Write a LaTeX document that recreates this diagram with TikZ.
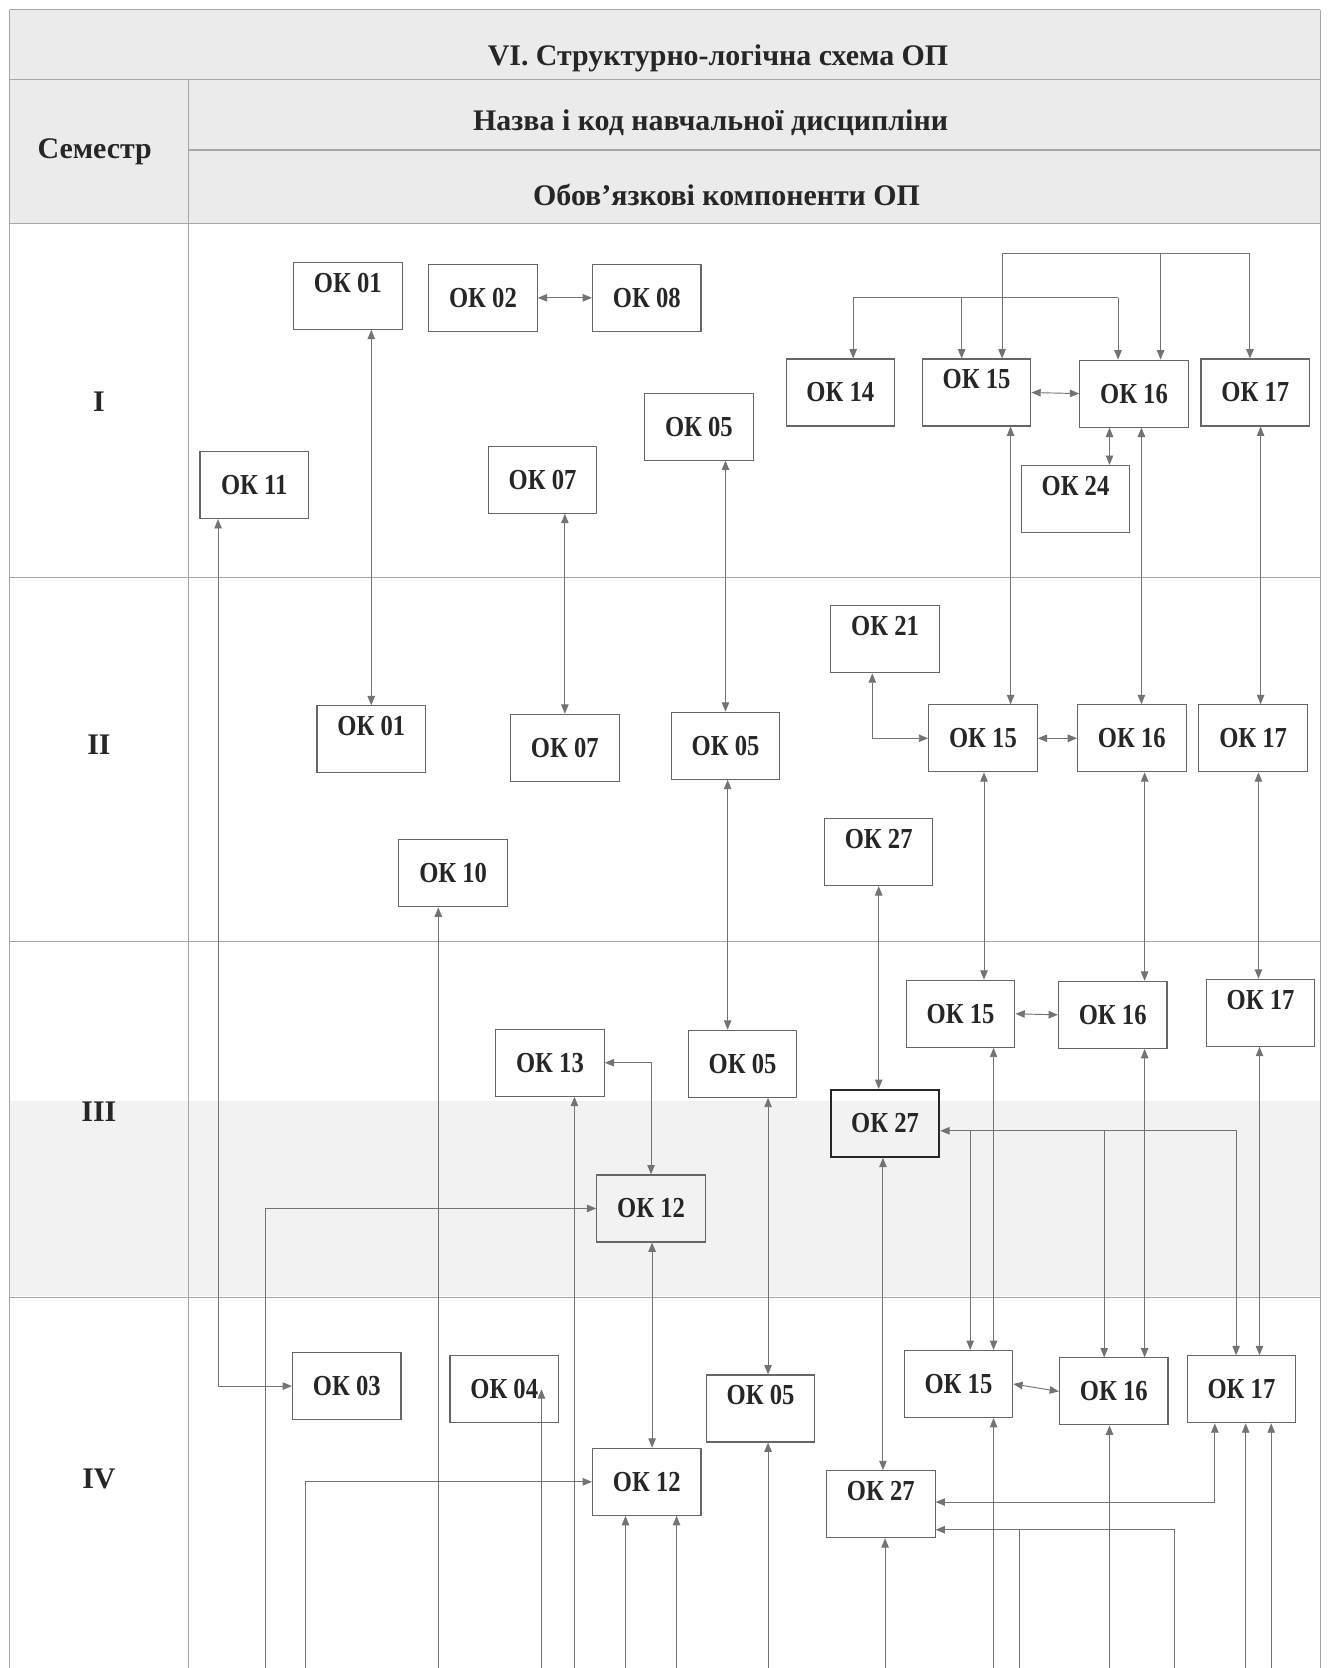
\documentclass[tikz,border=0pt]{standalone}
\usepackage{fontspec}
\setmainfont{Liberation Serif}
\newfontfamily\okfont[FakeStretch=0.85]{Liberation Serif}
\usetikzlibrary{arrows.meta,calc}

\tikzset{
  okbox/.style={draw=black!60, line width=0.6pt, minimum width=2.04cm, minimum height=1.26cm,
    inner sep=0pt, text=black!85, font={\okfont\fontsize{15.5}{16}\selectfont\bfseries}},
  oktop/.style={okbox, text height=0.36cm, text depth=0.5cm},
  head/.style={inner sep=0pt, text=black!85, font={\fontsize{16}{18}\selectfont\bfseries}},
  link/.style={draw=black!55, line width=0.5pt},
  tabline/.style={draw=black!35, line width=0.6pt}
}

\begin{document}
\begin{tikzpicture}[x=0.02cm, y=-0.02cm, >={Triangle[length=5pt,width=4pt]}]
  \useasboundingbox (0,0) rectangle (1249,1568);
  \fill[black!8] (9,9) rectangle (1241,210);
  \fill[black!5] (9,1035) rectangle (1241,1218);
  \draw[tabline] (9,9) -- (1241,9);
  \draw[tabline] (9,75) -- (1241,75);
  \draw[tabline] (177,141) -- (1241,141);
  \draw[tabline] (9,210) -- (1241,210);
  \draw[tabline] (9,543) -- (1241,543);
  \draw[tabline] (9,885) -- (1241,885);
  \draw[tabline] (9,1220) -- (1241,1220);
  \draw[tabline] (9,9) -- (9,1568);
  \draw[tabline] (177,75) -- (177,1568);
  \draw[tabline] (1241,9) -- (1241,1568);

  \node[head] (title) at (675,55) {VI. Структурно-логічна схема ОП};
  \node[head] (name) at (668,115) {Назва і код навчальної дисципліни};
  \node[head] (comp) at (683,183) {Обов’язкові компоненти ОП};
  \node[head] (sem) at (89,143) {Семестр};
  \node[head] (s1) at (93,378) {I};
  \node[head] (s2) at (93,700) {II};
  \node[head] (s3) at (93,1045) {III};
  \node[head] (s4) at (93,1390) {IV};

  \node[oktop] (ok01a) at (327,278) {ОК 01};
  \node[okbox] (ok02) at (454,280) {ОК 02};
  \node[okbox] (ok08) at (608,280) {ОК 08};
  \node[okbox] (ok14) at (790,369) {ОК 14};
  \node[oktop] (ok15a) at (918,369) {ОК 15};
  \node[okbox] (ok16a) at (1066,370) {ОК 16};
  \node[okbox] (ok17a) at (1180,369) {ОК 17};
  \node[okbox] (ok05a) at (657,401) {ОК 05};
  \node[okbox] (ok07a) at (510,451) {ОК 07};
  \node[okbox] (ok11) at (239,456) {ОК 11};
  \node[oktop] (ok24) at (1011,469) {ОК 24};

  \node[oktop] (ok01b) at (349,695) {ОК 01};
  \node[okbox] (ok07b) at (531,703) {ОК 07};
  \node[okbox] (ok05b) at (682,701) {ОК 05};
  \node[oktop] (ok21) at (832,601) {ОК 21};
  \node[okbox] (ok15b) at (924,694) {ОК 15};
  \node[okbox] (ok16b) at (1064,694) {ОК 16};
  \node[okbox] (ok17b) at (1178,694) {ОК 17};
  \node[oktop] (ok27b) at (826,801) {ОК 27};
  \node[okbox] (ok10) at (426,821) {ОК 10};

  \node[okbox] (ok15c) at (903,953) {ОК 15};
  \node[okbox] (ok16c) at (1046,954) {ОК 16};
  \node[oktop] (ok17c) at (1185,952) {ОК 17};
  \node[okbox] (ok13) at (517,999) {ОК 13};
  \node[okbox] (ok05c) at (698,1000) {ОК 05};
  \node[okbox, draw=black!85, line width=1pt] (ok27c) at (832,1056) {ОК 27};
  \node[okbox] (ok12c) at (612,1136) {ОК 12};

  \node[okbox] (ok03) at (326,1303) {ОК 03};
  \node[okbox] (ok04) at (474,1306) {ОК 04};
  \node[oktop] (ok05d) at (715,1324) {ОК 05};
  \node[okbox] (ok12d) at (608,1393) {ОК 12};
  \node[okbox] (ok15d) at (901,1301) {ОК 15};
  \node[okbox] (ok16d) at (1047,1308) {ОК 16};
  \node[okbox] (ok17d) at (1167,1306) {ОК 17};
  \node[oktop] (ok27d) at (828,1414) {ОК 27};

  \draw[link,<->] (ok02.east) -- (ok08.west);
  \draw[link] (802,280) -- (1051,280);
  \draw[link,->] (802,280) -- (802,0 |- ok14.north);
  \draw[link,->] (904,280) -- (904,0 |- ok15a.north);
  \draw[link,->] (1051,280) -- (1051,0 |- ok16a.north);
  \draw[link] (942,238) -- (1175,238);
  \draw[link,->] (942,238) -- (942,0 |- ok15a.north);
  \draw[link,->] (1091,238) -- (1091,0 |- ok16a.north);
  \draw[link,->] (1175,238) -- (1175,0 |- ok17a.north);
  \draw[link,<->] (ok15a.east) -- (ok16a.west);
  \draw[link,<->] (1043,0 |- ok16a.south) -- (1043,0 |- ok24.north);
  \draw[link,<->] (ok01a.south -| ok01b) -- (ok01b.north);
  \draw[link,<->] (ok07a.south -| ok07b) -- (ok07b.north);
  \draw[link,<->] (ok05a.south -| ok05b) -- (ok05b.north);
  \draw[link,<->] (205,0 |- ok11.south) |- (ok03.west);
  \draw[link,<->] (950,0 |- ok15a.south) -- (950,0 |- ok15b.north);
  \draw[link,<->] (1073,0 |- ok16a.south) -- (1073,0 |- ok16b.north);
  \draw[link,<->] (1185,0 |- ok17a.south) -- (1185,0 |- ok17b.north);

  \draw[link,<->] (820,0 |- ok21.south) |- (ok15b.west);
  \draw[link,<->] (ok15b.east) -- (ok16b.west);
  \draw[link,<->] (925,0 |- ok15b.south) -- (925,0 |- ok15c.north);
  \draw[link,<->] (1076,0 |- ok16b.south) -- (1076,0 |- ok16c.north);
  \draw[link,<->] (1183,0 |- ok17b.south) -- (1183,0 |- ok17c.north);
  \draw[link,<->] (ok27b.south) -- (ok27b.south |- ok27c.north);
  \draw[link,<->] (684,0 |- ok05b.south) -- (684,0 |- ok05c.north);

  \draw[link,<->] (ok15c.east) -- (ok16c.west);
  \draw[link,<->] (ok13.east) -| (ok12c.north);
  \draw[link,->] (250,1568) |- (ok12c.west);
  \draw[link,->] (540,1568) -- (540,0 |- ok13.south);
  \draw[link,<->] (613,0 |- ok12c.south) -- (613,0 |- ok12d.north);
  \draw[link,<->] (722,0 |- ok05c.south) -- (722,0 |- ok05d.north);
  \draw[link,<->] (830,0 |- ok27c.south) -- (830,0 |- ok27d.north);
  \draw[link,<->] (934,0 |- ok15c.south) -- (934,0 |- ok15d.north);
  \draw[link,<->] (1076,0 |- ok16c.south) -- (1076,0 |- ok16d.north);
  \draw[link,<->] (1184,0 |- ok17c.south) -- (1184,0 |- ok17d.north);
  \draw[link,<->] (ok27c.east |- 0,1063) -| (1162,0 |- ok17d.north);
  \draw[link,->] (912,1063) -- (912,0 |- ok15d.north);
  \draw[link,->] (1038,1063) -- (1038,0 |- ok16d.north);

  \draw[link,->] (412,1568) -- (412,0 |- ok10.south);
  \draw[link,->] (509,1568) -- (509,0 |- ok04);
  \draw[link,->] (287,1568) |- (ok12d.west);
  \draw[link,->] (588,1568) -- (588,0 |- ok12d.south);
  \draw[link,->] (636,1568) -- (636,0 |- ok12d.south);
  \draw[link,->] (722,1568) -- (722,0 |- ok05d.south);
  \draw[link,<->] (ok15d.east) -- (ok16d.west);
  \draw[link,<->] (1142,0 |- ok17d.south) |- (ok27d.east |- 0,1412);
  \draw[link,->] (1104,1568) |- (ok27d.east |- 0,1438);
  \draw[link] (958,1568) -- (958,1438);
  \draw[link,->] (832,1568) -- (832,0 |- ok27d.south);
  \draw[link,->] (934,1568) -- (934,0 |- ok15d.south);
  \draw[link,->] (1043,1568) -- (1043,0 |- ok16d.south);
  \draw[link,->] (1171,1568) -- (1171,0 |- ok17d.south);
  \draw[link,->] (1195,1568) -- (1195,0 |- ok17d.south);
\end{tikzpicture}
\end{document}
